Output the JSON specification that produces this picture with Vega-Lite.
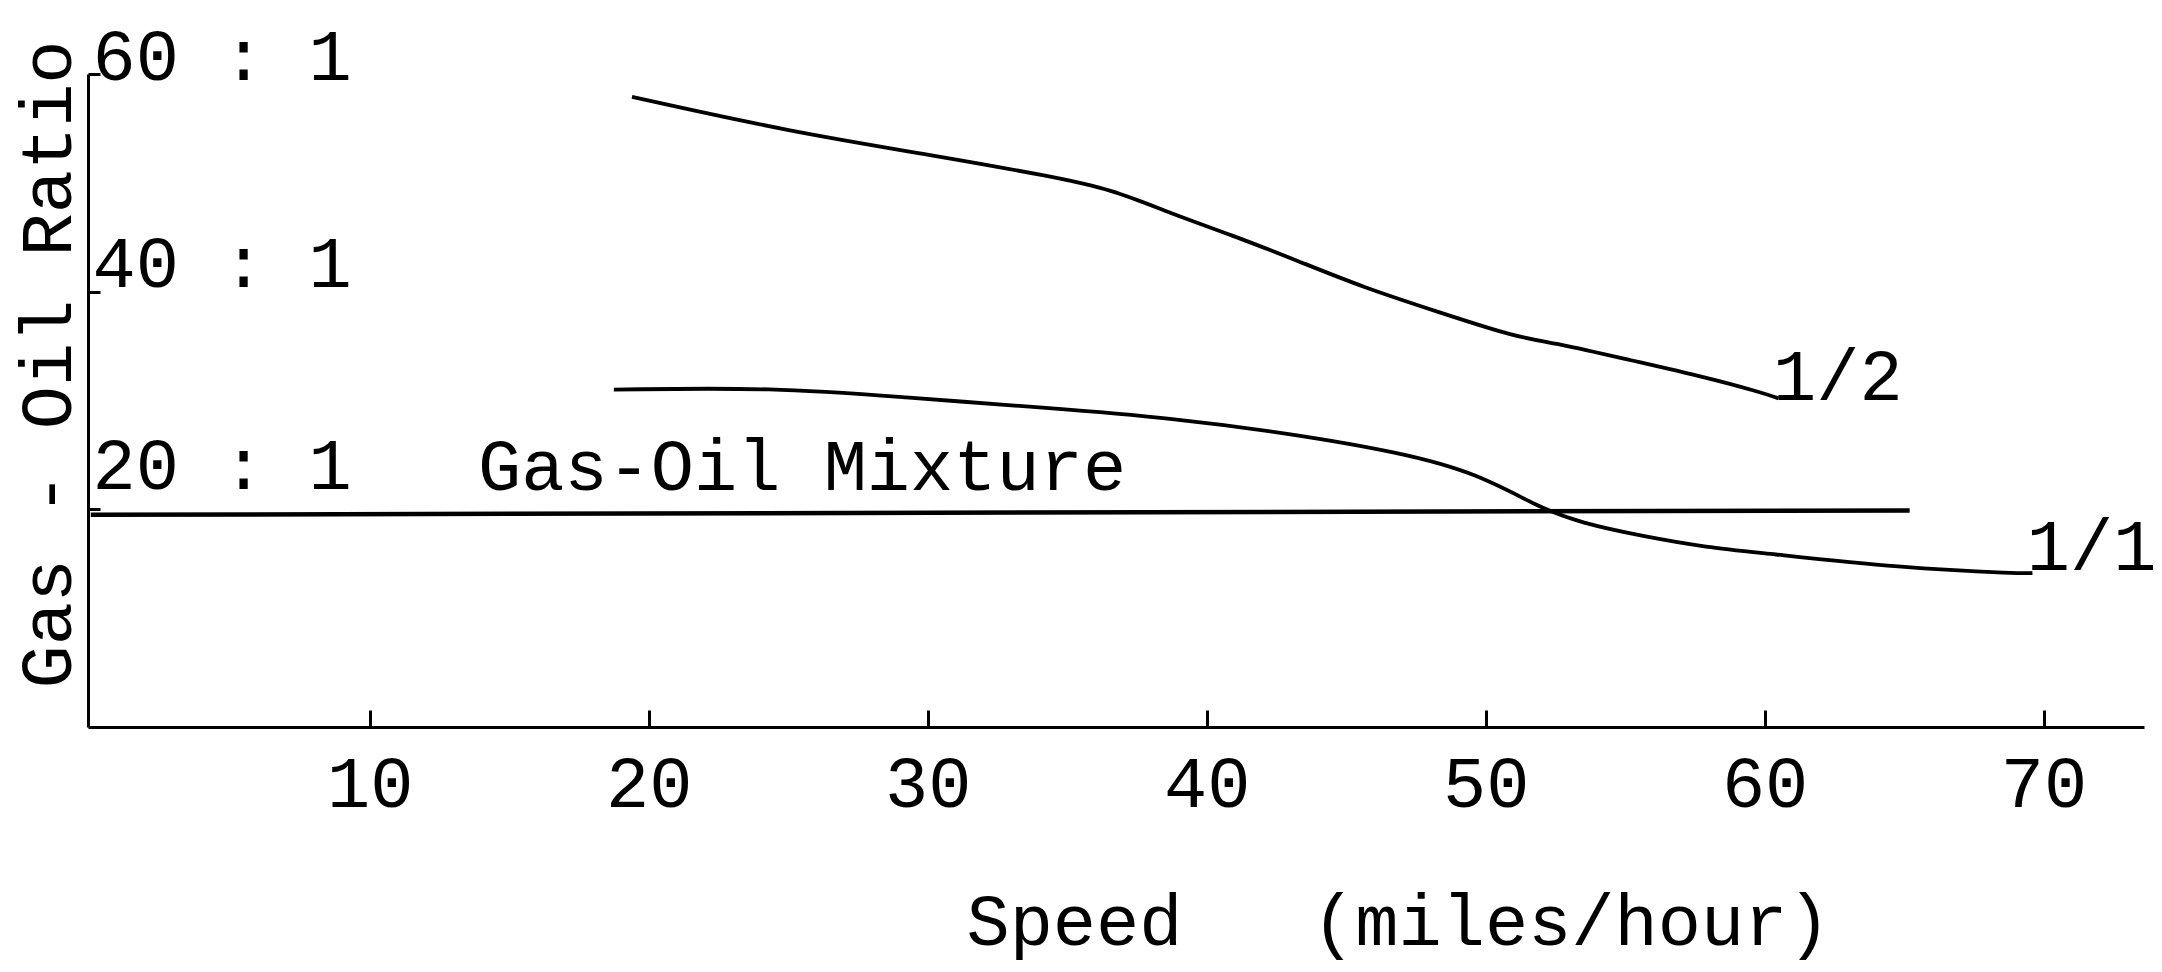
{
  "$schema": "https://vega.github.io/schema/vega-lite/v6.json",
  "width": 2056,
  "height": 653,
  "autosize": {"type": "none"},
  "padding": {"left": 88, "top": 74, "right": 18, "bottom": 245},
  "background": "white",
  "config": {
    "view": {"stroke": null},
    "font": "Liberation Mono"
  },
  "datasets": {
    "curves": [
      {"speed": 19.4, "ratio": 57.9, "throttle": "1/2"},
      {"speed": 25.05, "ratio": 54.7, "throttle": "1/2"},
      {"speed": 30.5, "ratio": 52.4, "throttle": "1/2"},
      {"speed": 34.4, "ratio": 50.6, "throttle": "1/2"},
      {"speed": 36.6, "ratio": 49.4, "throttle": "1/2"},
      {"speed": 38.7, "ratio": 47.2, "throttle": "1/2"},
      {"speed": 40.9, "ratio": 45.2, "throttle": "1/2"},
      {"speed": 43.2, "ratio": 42.9, "throttle": "1/2"},
      {"speed": 45.6, "ratio": 40.4, "throttle": "1/2"},
      {"speed": 48.35, "ratio": 38.1, "throttle": "1/2"},
      {"speed": 51.1, "ratio": 35.8, "throttle": "1/2"},
      {"speed": 52.5, "ratio": 35.3, "throttle": "1/2"},
      {"speed": 55.2, "ratio": 33.7, "throttle": "1/2"},
      {"speed": 57.95, "ratio": 32.1, "throttle": "1/2"},
      {"speed": 59.8, "ratio": 30.8, "throttle": "1/2"},
      {"speed": 60.5, "ratio": 30.2, "throttle": "1/2"},
      {"speed": 18.75, "ratio": 31.0, "throttle": "1/1"},
      {"speed": 24.5, "ratio": 31.2, "throttle": "1/1"},
      {"speed": 29.1, "ratio": 30.3, "throttle": "1/1"},
      {"speed": 34.4, "ratio": 29.3, "throttle": "1/1"},
      {"speed": 38.7, "ratio": 28.4, "throttle": "1/1"},
      {"speed": 42.9, "ratio": 27.0, "throttle": "1/1"},
      {"speed": 47.0, "ratio": 25.2, "throttle": "1/1"},
      {"speed": 49.7, "ratio": 23.3, "throttle": "1/1"},
      {"speed": 51.9, "ratio": 20.2, "throttle": "1/1"},
      {"speed": 53.4, "ratio": 18.75, "throttle": "1/1"},
      {"speed": 55.7, "ratio": 17.5, "throttle": "1/1"},
      {"speed": 57.95, "ratio": 16.5, "throttle": "1/1"},
      {"speed": 59.9, "ratio": 16.0, "throttle": "1/1"},
      {"speed": 64.9, "ratio": 14.6, "throttle": "1/1"},
      {"speed": 69.2, "ratio": 14.1, "throttle": "1/1"},
      {"speed": 69.6, "ratio": 14.15, "throttle": "1/1"}
    ],
    "mixture": [
      {"speed": 0, "ratio": 19.5},
      {"speed": 65.2, "ratio": 19.9}
    ],
    "labels": [
      {"speed": 13.88, "ratio": 21.8, "text": "Gas-Oil Mixture"},
      {"speed": 60.3, "ratio": 30.05, "text": "1/2"},
      {"speed": 69.4, "ratio": 14.4, "text": "1/1"}
    ]
  },
  "encoding": {
    "x": {
      "field": "speed",
      "type": "quantitative",
      "scale": {"domain": [-0.1, 73.6], "nice": false, "zero": false},
      "axis": {
        "values": [10, 20, 30, 40, 50, 60, 70],
        "grid": false,
        "domainColor": "black",
        "domainWidth": 3,
        "tickColor": "black",
        "tickWidth": 3,
        "tickSize": -17,
        "labelFont": "Liberation Mono",
        "labelFontSize": 72,
        "labelColor": "black",
        "labelPadding": 96,
        "labelBaseline": "alphabetic",
        "labelFlush": false,
        "labelOverlap": false,
        "labelLimit": 0,
        "title": "Speed\u00a0\u00a0\u00a0(miles/hour)",
        "titleFont": "Liberation Mono",
        "titleFontSize": 72,
        "titleFontWeight": "normal",
        "titleColor": "black",
        "titleLimit": 0,
        "titleX": 1310,
        "titleY": 217,
        "titleAlign": "center",
        "titleBaseline": "alphabetic"
      }
    },
    "y": {
      "field": "ratio",
      "type": "quantitative",
      "scale": {"domain": [0, 60], "nice": false, "zero": false},
      "axis": {
        "values": [20, 40, 60],
        "labelExpr": "datum.value + ' : 1'",
        "grid": false,
        "domainColor": "black",
        "domainWidth": 3,
        "tickColor": "black",
        "tickWidth": 3,
        "tickSize": -12,
        "labelFont": "Liberation Mono",
        "labelFontSize": 72,
        "labelColor": "black",
        "labelAlign": "left",
        "labelPadding": 8,
        "labelBaseline": "alphabetic",
        "labelOffset": {"condition": [{"test": "datum.value == 60", "value": 5}, {"test": "datum.value == 20", "value": -21}], "value": -5},
        "labelFlush": false,
        "labelOverlap": false,
        "labelLimit": 0,
        "title": "Gas - Oil Ratio",
        "titleFont": "Liberation Mono",
        "titleFontSize": 72,
        "titleFontWeight": "normal",
        "titleColor": "black",
        "titleLimit": 0,
        "titleAngle": -90,
        "titleX": -18,
        "titleY": 290,
        "titleAlign": "center",
        "titleBaseline": "alphabetic"
      }
    }
  },
  "layer": [
    {
      "data": {"name": "curves"},
      "mark": {"type": "line", "color": "black", "strokeWidth": 3.8, "interpolate": "basis"},
      "encoding": {"detail": {"field": "throttle"}}
    },
    {
      "data": {"name": "mixture"},
      "mark": {"type": "line", "color": "black", "strokeWidth": 4.5},
      "encoding": {}
    },
    {
      "data": {"name": "labels"},
      "mark": {"type": "text", "font": "Liberation Mono", "fontSize": 72, "color": "black", "align": "left", "baseline": "alphabetic"},
      "encoding": {"text": {"field": "text"}}
    }
  ]
}
